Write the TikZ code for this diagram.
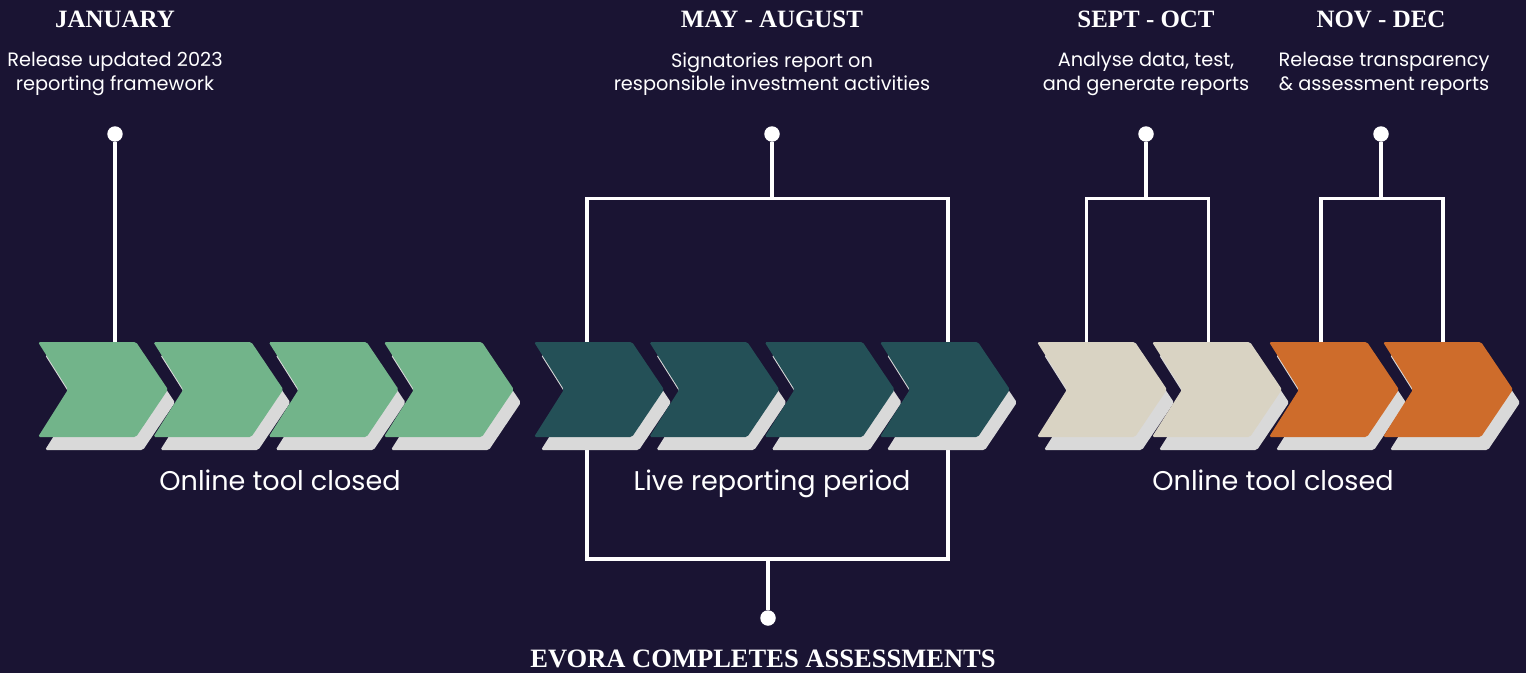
\documentclass[tikz,border=0pt]{standalone}
\usepackage{fontspec}
\setmainfont{Poppins}
\newfontfamily\headfont{Liberation Serif}
\definecolor{bgnavy}{HTML}{1A1433}
\definecolor{leaf}{HTML}{72B48A}
\definecolor{teal}{HTML}{245057}
\definecolor{sand}{HTML}{D9D3C3}
\definecolor{rust}{HTML}{CE6C2B}
\definecolor{chevshadow}{HTML}{D9D9D9}
% one chevron with its shadow, #1 = left x, #2 = colour
\newcommand{\chevron}[2]{%
  \fill[chevshadow, rounded corners=1pt, shift={(#1+7,13)}] (0,342) -- (98,342)
    -- (130,389.5) -- (98,437) -- (0,437) -- (30,389.5) -- cycle;
  \fill[#2, rounded corners=1pt, shift={(#1,0)}] (0,342) -- (98,342)
    -- (130,389.5) -- (98,437) -- (0,437) -- (30,389.5) -- cycle;
}
\tikzset{
  bracket/.style={white, line width=2.2pt},
  pin/.style={circle, fill=white, inner sep=0pt, minimum size=0.31cm},
  month/.style={font=\headfont\bfseries\fontsize{14.2}{17}\selectfont, text=white, inner sep=0pt},
  task/.style={font=\fontsize{11}{13.6}\selectfont, text=white, align=center, inner sep=0pt},
  period/.style={font=\fontsize{15.4}{19}\selectfont, text=white, inner sep=0pt},
}
\begin{document}
\begin{tikzpicture}[x=0.02cm, y=-0.02cm]
		%background
		\fill[bgnavy] (0,0) rectangle (1526,673);
		\useasboundingbox (0,0) rectangle (1526,673);
		%headings
		\node[month, anchor=base] (jan-head) at (115,27) {JANUARY};
		\node[month, anchor=base] (may-head) at (772,27) {MAY - AUGUST};
		\node[month, anchor=base] (sep-head) at (1146,27) {SEPT - OCT};
		\node[month, anchor=base] (nov-head) at (1381,27) {NOV - DEC};
		%tasks
		\node[task, anchor=north] (jan-task) at (115,52) {Release updated 2023\\reporting framework};
		\node[task, anchor=north] (may-task) at (772,52) {Signatories report on\\responsible investment activities};
		\node[task, anchor=north] (sep-task) at (1146,52) {Analyse data, test,\\and generate reports};
		\node[task, anchor=north] (nov-task) at (1384,52) {Release transparency\\\& assessment reports};
		%pins
		\node[pin] (jan-pin) at (115,134) {};
		\node[pin] (may-pin) at (772,134) {};
		\node[pin] (sep-pin) at (1146,134) {};
		\node[pin] (nov-pin) at (1381,134) {};
		\node[pin] (evora-pin) at (768,618) {};
		%bracket corners
		\coordinate (jan-end) at (115,342);
		\coordinate (may-tl) at (587,198.5);
		\coordinate (may-tr) at (948,198.5);
		\coordinate (may-bl) at (587,559);
		\coordinate (may-br) at (948,559);
		\coordinate (sep-tl) at (1086.5,198.5);
		\coordinate (sep-tr) at (1208.5,198.5);
		\coordinate (sep-l) at (1086.5,342);
		\coordinate (sep-r) at (1208.5,342);
		\coordinate (nov-tl) at (1321,198.5);
		\coordinate (nov-tr) at (1443,198.5);
		\coordinate (nov-l) at (1321,342);
		\coordinate (nov-r) at (1443,342);
		%connectors
		\draw[bracket] (jan-pin) -- (jan-end);
		\draw[bracket] (may-pin) -- (may-pin |- may-tl);
		\draw[bracket] (may-tl) -- (may-tr) -- (may-br) -- (may-bl) -- cycle;
		\draw[bracket] (evora-pin) -- (evora-pin |- may-bl);
		\draw[bracket] (sep-pin) -- (sep-pin |- sep-tl);
		\draw[bracket] (sep-l) -- (sep-tl) -- (sep-tr) -- (sep-r);
		\draw[bracket] (nov-pin) -- (nov-pin |- nov-tl);
		\draw[bracket] (nov-l) -- (nov-tl) -- (nov-tr) -- (nov-r);
		%chevrons
		\foreach \x in {38,153.3,268.6,383.9} {\chevron{\x}{leaf}}
		\foreach \x in {534,649.3,764.6,879.9} {\chevron{\x}{teal}}
		\foreach \x in {1037,1152} {\chevron{\x}{sand}}
		\foreach \x in {1269,1383} {\chevron{\x}{rust}}
		%periods
		\node[period, anchor=base] (closed-a) at (280,490) {Online tool closed};
		\node[period, anchor=base] (live) at (772,490) {Live reporting period};
		\node[period, anchor=base] (closed-b) at (1273,490) {Online tool closed};
		%assessment
		\node[month, font=\headfont\bfseries\fontsize{15.1}{18}\selectfont, anchor=base] (evora) at (763,667) {EVORA COMPLETES ASSESSMENTS};
	\end{tikzpicture}
\end{document}
